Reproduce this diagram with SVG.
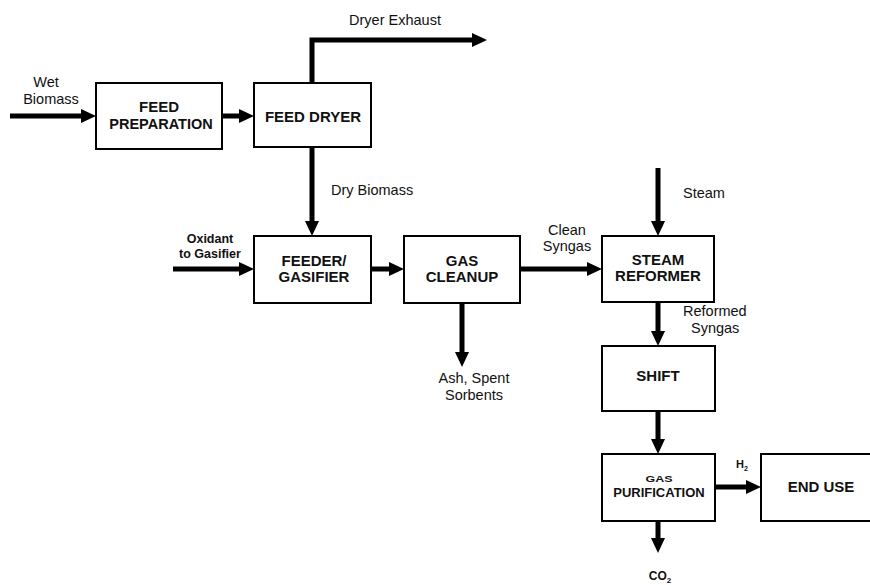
<svg xmlns="http://www.w3.org/2000/svg" width="870" height="585" viewBox="0 0 870 585">
<style>
.box{fill:#fff;stroke:#000;stroke-width:2}
.lbl{font-family:"Liberation Sans",Arial,sans-serif;font-weight:bold;font-size:15px;fill:#111;text-anchor:middle}
.t{font-family:"Liberation Sans",Arial,sans-serif;font-size:14.5px;fill:#111}
.c{text-anchor:middle}
.con{fill:none;stroke:#000;stroke-width:5;marker-end:url(#ah)}
</style>
<defs>
<marker id="ah" markerUnits="userSpaceOnUse" markerWidth="16" markerHeight="16" refX="3" refY="7" orient="auto">
<path d="M0,0 L15,7 L0,14 z" fill="#000"/>
</marker>
</defs>
<rect width="870" height="585" fill="#fff"/>
<g id="connectors">
<path class="con" d="M10,116 H84"/>
<path class="con" d="M222,116 H242"/>
<path class="con" d="M312,83 V40 H475"/>
<path class="con" d="M312,147 V224"/>
<path class="con" d="M173,269 H242"/>
<path class="con" d="M371,269 H392"/>
<path class="con" d="M462,303 V355"/>
<path class="con" d="M520,269 H590"/>
<path class="con" d="M658,168 V224"/>
<path class="con" d="M658,302 V334"/>
<path class="con" d="M658,411 V442"/>
<path class="con" d="M715,487 H749"/>
<path class="con" d="M658,521 V541"/>
</g>
<g id="labels">
<text class="t c" x="46" y="87">Wet</text>
<text class="t c" x="51" y="104">Biomass</text>
<text class="t c" x="395" y="25">Dryer Exhaust</text>
<text class="t" x="331" y="195">Dry Biomass</text>
<text class="t c" x="210" y="243" style="font-weight:bold;font-size:12.5px">Oxidant</text>
<text class="t c" x="210" y="258" style="font-weight:bold;font-size:12.5px">to Gasifier</text>
<text class="t c" x="474" y="383">Ash, Spent</text>
<text class="t c" x="474" y="400">Sorbents</text>
<text class="t c" x="567" y="235">Clean</text>
<text class="t c" x="567" y="251">Syngas</text>
<text class="t" x="683" y="198">Steam</text>
<text class="t" x="683" y="316">Reformed</text>
<text class="t" x="691" y="333">Syngas</text>
<text class="t" x="736" y="468" style="font-weight:bold;font-size:11px">H<tspan dy="3" font-size="7">2</tspan></text>
<text class="t c" x="660" y="580" style="font-weight:bold;font-size:12px">CO<tspan dy="3" font-size="8">2</tspan></text>
</g>
<g id="feed-preparation">
<rect class="box" x="96" y="83" width="126" height="66"/>
<text class="lbl" x="159" y="112">FEED</text>
<text class="lbl" x="161" y="129" style="font-size:14.5px">PREPARATION</text>
</g>
<g id="feed-dryer">
<rect class="box" x="254" y="83" width="117" height="64"/>
<text class="lbl" x="313" y="122">FEED DRYER</text>
</g>
<g id="feeder-gasifier">
<rect class="box" x="254" y="236" width="117" height="67"/>
<text class="lbl" x="314" y="266">FEEDER/</text>
<text class="lbl" x="314" y="282">GASIFIER</text>
</g>
<g id="gas-cleanup">
<rect class="box" x="404" y="236" width="116" height="67"/>
<text class="lbl" x="462" y="266">GAS</text>
<text class="lbl" x="462" y="282">CLEANUP</text>
</g>
<g id="steam-reformer">
<rect class="box" x="602" y="236" width="112" height="66"/>
<text class="lbl" x="658" y="265">STEAM</text>
<text class="lbl" x="658" y="281">REFORMER</text>
</g>
<g id="shift">
<rect class="box" x="602" y="346" width="113" height="65"/>
<text class="lbl" x="658" y="381">SHIFT</text>
</g>
<g id="gas-purification">
<rect class="box" x="602" y="454" width="113" height="67"/>
<text class="lbl" x="659" y="482" style="font-size:9px" textLength="27" lengthAdjust="spacingAndGlyphs">GAS</text>
<text class="lbl" x="659" y="497" style="font-size:13px">PURIFICATION</text>
</g>
<g id="end-use">
<rect class="box" x="761" y="454" width="112" height="67"/>
<text class="lbl" x="821" y="492">END USE</text>
</g>
</svg>
